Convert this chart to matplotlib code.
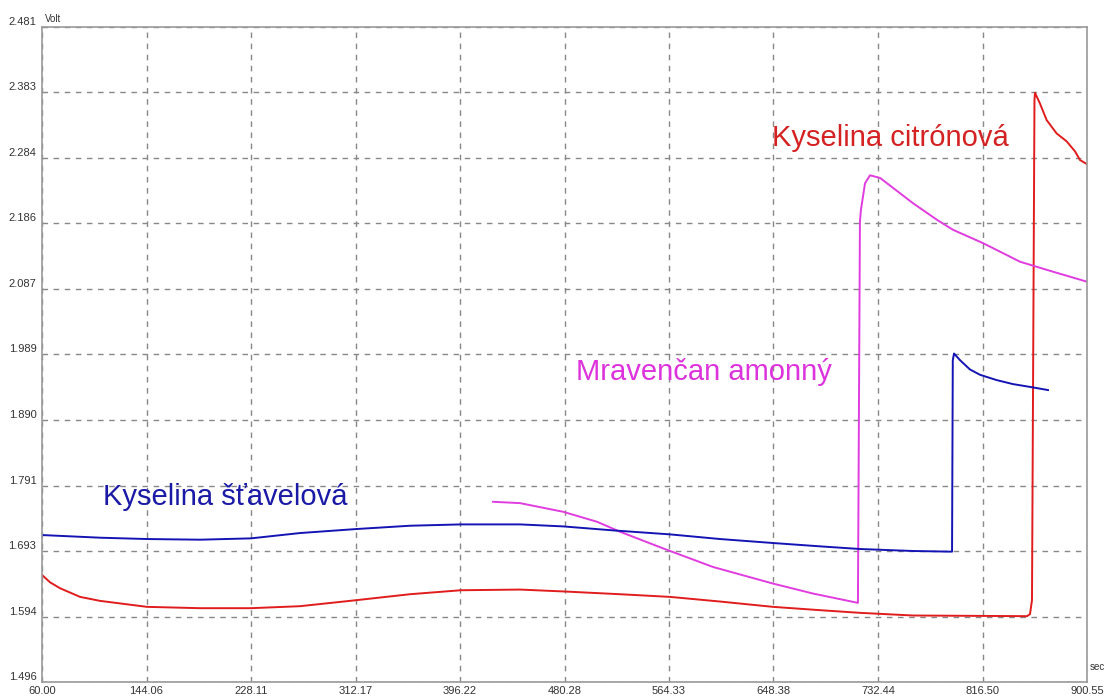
import matplotlib
matplotlib.use("Agg")
import matplotlib.pyplot as plt

plt.rcParams['font.family'] = ['Liberation Sans', 'DejaVu Sans']

# axis ticks
x_ticks = [60.00, 144.06, 228.11, 312.17, 396.22, 480.28, 564.33, 648.38, 732.44, 816.50, 900.55]
y_ticks = [1.496, 1.594, 1.693, 1.791, 1.890, 1.989, 2.087, 2.186, 2.284, 2.383, 2.481]

# Kyselina šťavelová (blue)
t_blue = [60.0, 106.7, 144.5, 187.1, 228.1, 267.5, 312.6, 356.0, 397.0, 444.5, 479.1,
          519.3, 565.1, 605.4, 648.0, 685.8, 718.0, 760.6, 792.0, 792.6, 793.6, 798.4,
          806.4, 814.5, 827.9, 841.0, 857.1, 869.2]
v_blue = [1.717, 1.713, 1.711, 1.710, 1.712, 1.720, 1.726, 1.731, 1.733, 1.733, 1.730,
          1.724, 1.718, 1.711, 1.705, 1.700, 1.696, 1.693, 1.692, 1.980, 1.990, 1.980,
          1.966, 1.958, 1.950, 1.944, 1.939, 1.935]

# Kyselina citrónová (red)
t_red = [60.0, 66.4, 74.5, 90.6, 106.7, 144.5, 187.1, 228.1, 267.5, 312.6, 356.0, 397.0,
         444.5, 481.5, 524.9, 565.1, 605.4, 648.0, 685.8, 718.0, 760.6, 852.3, 854.7,
         856.3, 857.9, 858.3, 858.7, 862.7, 868.1, 876.1, 884.2, 890.9, 894.9, 900.3]
v_red = [1.657, 1.646, 1.637, 1.624, 1.618, 1.609, 1.607, 1.607, 1.610, 1.619, 1.628, 1.634,
         1.635, 1.632, 1.628, 1.624, 1.617, 1.609, 1.604, 1.600, 1.596, 1.595, 1.598,
         1.619, 2.221, 2.371, 2.382, 2.366, 2.341, 2.321, 2.309, 2.294, 2.281, 2.275]

# Mravenčan amonný (magenta)
t_mag = [422.8, 444.5, 479.1, 506.4, 524.9, 559.5, 599.7, 648.0, 680.2, 716.3, 717.9,
         718.7, 722.0, 726.0, 734.1, 739.7, 760.6, 779.9, 792.8, 816.9, 846.7, 873.2, 900.5]
v_mag = [1.767, 1.765, 1.752, 1.737, 1.722, 1.697, 1.669, 1.644, 1.629, 1.615, 2.188,
         2.206, 2.246, 2.258, 2.254, 2.246, 2.216, 2.191, 2.176, 2.156, 2.128, 2.113, 2.098]

fig = plt.figure(figsize=(11.07, 6.97), dpi=100)
ax = fig.add_axes([42 / 1107, 15 / 697, 1045 / 1107, 655 / 697])

style = dict(lw=1.4, solid_joinstyle='round')
ax.plot(t_red, v_red, color='#e01c1c', **style)
ax.plot(t_mag, v_mag, color='#e03ce0', **style)
ax.plot(t_blue, v_blue, color='#1414b4', **style)

ax.set_xlim(x_ticks[0], x_ticks[-1])
ax.set_ylim(y_ticks[0], y_ticks[-1])
ax.set_xticks(x_ticks)
ax.set_xticklabels(['%.2f' % v for v in x_ticks])
ax.set_yticks(y_ticks)
ax.set_yticklabels(['%.3f' % v for v in y_ticks])
for lab in ax.get_yticklabels():
    lab.set_verticalalignment('bottom')
ax.tick_params(length=0, labelsize=8, labelcolor='#333333', pad=4)
ax.tick_params(axis='x', pad=3)

ax.grid(True, color='#888888', ls=(0, (4, 4)), lw=1)
for s in ax.spines.values():
    s.set_color('#999999')
    s.set_linewidth(1.2)

ax.text(0.003, 1.005, 'Volt', transform=ax.transAxes, fontsize=7, color='#333333',
        va='bottom', ha='left')
ax.text(1.003, 0.015, 'sec', transform=ax.transAxes, fontsize=7, color='#333333',
        va='bottom', ha='left')

ax.text(742, 2.314, 'Kyselina citrónová', color='#d42222', fontsize=21, ha='center', va='center')
ax.text(592.5, 1.962, 'Mravenčan amonný', color='#dd33dd', fontsize=21, ha='center', va='center')
ax.text(207, 1.774, 'Kyselina šťavelová', color='#1a1aa6', fontsize=21, ha='center', va='center')

fig.savefig('out.png', dpi=100)
